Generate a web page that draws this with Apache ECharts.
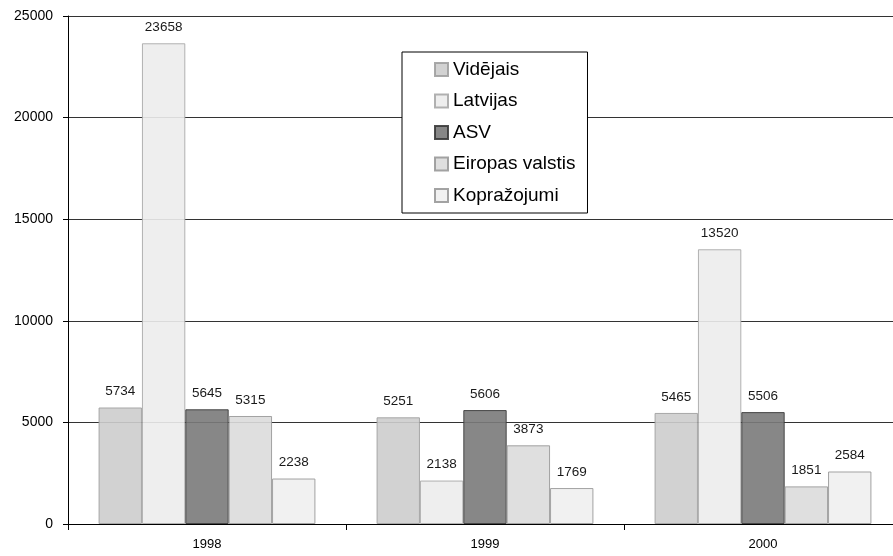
<!DOCTYPE html>
<html>
<head>
<meta charset="utf-8">
<script src="https://cdn.jsdelivr.net/npm/echarts@6/dist/echarts.min.js"></script>
<style>
html,body{margin:0;padding:0;background:#fff;overflow:hidden;width:893px;height:556px;}
#c{width:902px;height:556px;}
</style>
</head>
<body>
<div id="c"></div>
<script>
var categories = ['1998', '1999', '2000'];
var seriesNames = ['Vidējais', 'Latvijas', 'ASV', 'Eiropas valstis', 'Kopražojumi'];
var videjais = [5734, 5251, 5465];
var latvijas = [23658, 2138, 13520];
var asv = [5645, 5606, 5506];
var eiropas = [5315, 3873, 1851];
var koprazojumi = [2238, 1769, 2584];
var yTicks = [0, 5000, 10000, 15000, 20000, 25000];

var values = [videjais, latvijas, asv, eiropas, koprazojumi];
var fills = ['#cdcdcd', '#ececec', '#7a7a7a', '#dcdcdc', '#efefef'];
var borders = ['#a0a0a0', '#a8a8a8', '#3a3a3a', '#999999', '#999999'];

var font = 'Liberation Sans, Arial, sans-serif';
var chart = echarts.init(document.getElementById('c'), null, {renderer: 'canvas'});
var series = seriesNames.map(function (n, i) {
  return {
    name: n,
    type: 'bar',
    data: values[i],
    barGap: '0%',
    barCategoryGap: '22%',
    itemStyle: {color: fills[i], borderColor: borders[i], borderWidth: 1, opacity: 0.9},
    label: {show: true, position: 'top', distance: 9, color: '#000', fontSize: 13.5, fontFamily: font},
    emphasis: {disabled: true}
  };
});

chart.setOption({
  animation: false,
  backgroundColor: '#fff',
  grid: {left: 68, right: 0, top: 16, bottom: 32, containLabel: false},
  legend: {
    orient: 'vertical',
    left: 402,
    top: 52,
    padding: [8, 12, 8, 32],
    itemWidth: 13,
    itemHeight: 13,
    itemGap: 12.5,
    borderColor: '#000',
    borderWidth: 1,
    backgroundColor: '#fff',
    icon: 'rect',
    textStyle: {fontSize: 19, color: '#000', fontFamily: font, lineHeight: 19},
    data: seriesNames
  },
  xAxis: {
    type: 'category',
    data: categories,
    axisLine: {lineStyle: {color: '#000', width: 1}},
    axisTick: {show: true, alignWithLabel: false, length: 6, lineStyle: {color: '#000'}},
    axisLabel: {color: '#000', fontSize: 13, fontFamily: font, margin: 14}
  },
  yAxis: {
    type: 'value',
    min: yTicks[0],
    max: yTicks[yTicks.length - 1],
    interval: 5000,
    axisLine: {show: true, lineStyle: {color: '#000', width: 1}},
    axisTick: {show: true, length: 5, lineStyle: {color: '#000'}},
    axisLabel: {color: '#000', fontSize: 14, fontFamily: font, margin: 15, formatter: function (v) { return String(v); }},
    splitLine: {show: true, lineStyle: {color: '#333', width: 1}}
  },
  series: series
});
</script>
</body>
</html>
